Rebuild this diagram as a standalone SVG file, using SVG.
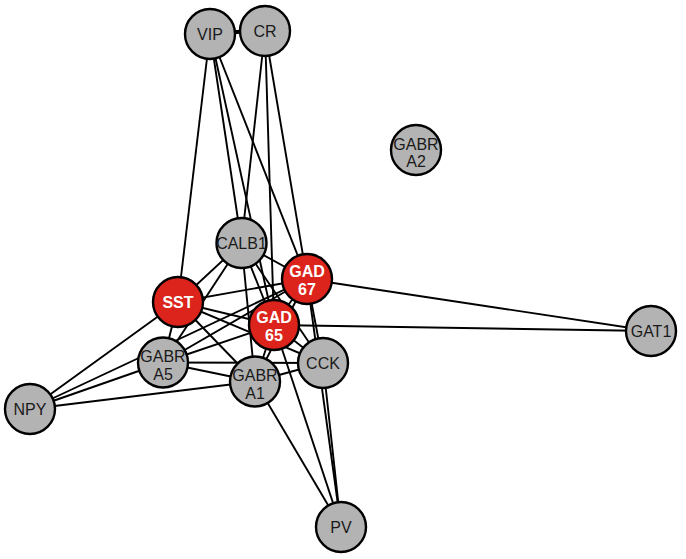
<svg xmlns="http://www.w3.org/2000/svg" width="686" height="559" viewBox="0 0 686 559">
<style>
.e{stroke:#000;stroke-width:1.9;fill:none}
.g{fill:#b3b3b3;stroke:#000;stroke-width:2.4}
.r{fill:#dc241c;stroke:#000;stroke-width:2.4}
.tg{font-family:"Liberation Sans",Arial,sans-serif;font-size:16px;fill:#1a1a1a;text-anchor:middle}
.tr{font-family:"Liberation Sans",Arial,sans-serif;font-size:16px;font-weight:bold;fill:#fff;text-anchor:middle}
</style>
<rect width="686" height="559" fill="#fff"/>
<g id="connectors">
<line class="e" x1="210" y1="33" x2="265" y2="31" style="stroke-width:4"/>
<line class="e" x1="210" y1="33" x2="178" y2="302"/>
<line class="e" x1="210" y1="33" x2="241.5" y2="243"/>
<line class="e" x1="210" y1="33" x2="274" y2="325"/>
<line class="e" x1="210" y1="33" x2="307" y2="279"/>
<line class="e" x1="265" y1="31" x2="241.5" y2="243"/>
<line class="e" x1="265" y1="31" x2="274" y2="325"/>
<line class="e" x1="265" y1="31" x2="307" y2="279"/>
<line class="e" x1="307" y1="279" x2="651" y2="331"/>
<line class="e" x1="274" y1="325" x2="651" y2="331"/>
<line class="e" x1="255" y1="381.5" x2="341" y2="527"/>
<line class="e" x1="274" y1="325" x2="341" y2="527"/>
<line class="e" x1="307" y1="279" x2="341" y2="527"/>
<line class="e" x1="323" y1="363" x2="341" y2="527"/>
<line class="e" x1="30" y1="409" x2="178" y2="302"/>
<line class="e" x1="30" y1="409" x2="307" y2="279"/>
<line class="e" x1="30" y1="409" x2="163" y2="362.5"/>
<line class="e" x1="30" y1="409" x2="255" y2="381.5"/>
<line class="e" x1="178" y1="302" x2="241.5" y2="243"/>
<line class="e" x1="178" y1="302" x2="307" y2="279"/>
<line class="e" x1="178" y1="302" x2="274" y2="325"/>
<line class="e" x1="178" y1="302" x2="163" y2="362.5"/>
<line class="e" x1="178" y1="302" x2="255" y2="381.5"/>
<line class="e" x1="178" y1="302" x2="323" y2="363"/>
<line class="e" x1="241.5" y1="243" x2="307" y2="279"/>
<line class="e" x1="241.5" y1="243" x2="274" y2="325"/>
<line class="e" x1="241.5" y1="243" x2="163" y2="362.5"/>
<line class="e" x1="241.5" y1="243" x2="255" y2="381.5"/>
<line class="e" x1="241.5" y1="243" x2="323" y2="363"/>
<line class="e" x1="307" y1="279" x2="274" y2="325"/>
<line class="e" x1="307" y1="279" x2="163" y2="362.5"/>
<line class="e" x1="307" y1="279" x2="255" y2="381.5"/>
<line class="e" x1="307" y1="279" x2="323" y2="363"/>
<line class="e" x1="274" y1="325" x2="163" y2="362.5"/>
<line class="e" x1="274" y1="325" x2="255" y2="381.5"/>
<line class="e" x1="274" y1="325" x2="323" y2="363"/>
<line class="e" x1="163" y1="362.5" x2="255" y2="381.5"/>
<line class="e" x1="163" y1="362.5" x2="323" y2="363"/>
<line class="e" x1="255" y1="381.5" x2="323" y2="363"/>
</g>
<g id="node-VIP"><circle class="g" cx="210" cy="34" r="25"/><text class="tg" x="210" y="39.5">VIP</text></g>
<g id="node-CR"><circle class="g" cx="265" cy="31" r="25"/><text class="tg" x="265" y="36.5">CR</text></g>
<g id="node-GABRA2"><circle class="g" cx="416" cy="150" r="25"/><text class="tg" x="416" y="149.5">GABR</text><text class="tg" x="416" y="167">A2</text></g>
<g id="node-CALB1"><circle class="g" cx="241.5" cy="243" r="25"/><text class="tg" x="241.5" y="248.5">CALB1</text></g>
<g id="node-SST"><circle class="r" cx="178" cy="302" r="25"/><text class="tr" x="178" y="307.5">SST</text></g>
<g id="node-GABRA5"><circle class="g" cx="163" cy="362.5" r="25"/><text class="tg" x="163" y="362">GABR</text><text class="tg" x="163" y="379.5">A5</text></g>
<g id="node-GABRA1"><circle class="g" cx="255" cy="381.5" r="25"/><text class="tg" x="255" y="381">GABR</text><text class="tg" x="255" y="398.5">A1</text></g>
<g id="node-CCK"><circle class="g" cx="323" cy="363" r="25"/><text class="tg" x="323" y="368.5">CCK</text></g>
<g id="node-GAD67"><circle class="r" cx="307" cy="279" r="25"/><text class="tr" x="307" y="276.5">GAD</text><text class="tr" x="307" y="295">67</text></g>
<g id="node-GAD65"><circle class="r" cx="274" cy="325" r="25"/><text class="tr" x="274" y="322.5">GAD</text><text class="tr" x="274" y="341">65</text></g>
<g id="node-NPY"><circle class="g" cx="30" cy="409" r="25"/><text class="tg" x="30" y="414.5">NPY</text></g>
<g id="node-GAT1"><circle class="g" cx="651" cy="331" r="25"/><text class="tg" x="651" y="336.5">GAT1</text></g>
<g id="node-PV"><circle class="g" cx="341" cy="527" r="25"/><text class="tg" x="341" y="532.5">PV</text></g>
</svg>
